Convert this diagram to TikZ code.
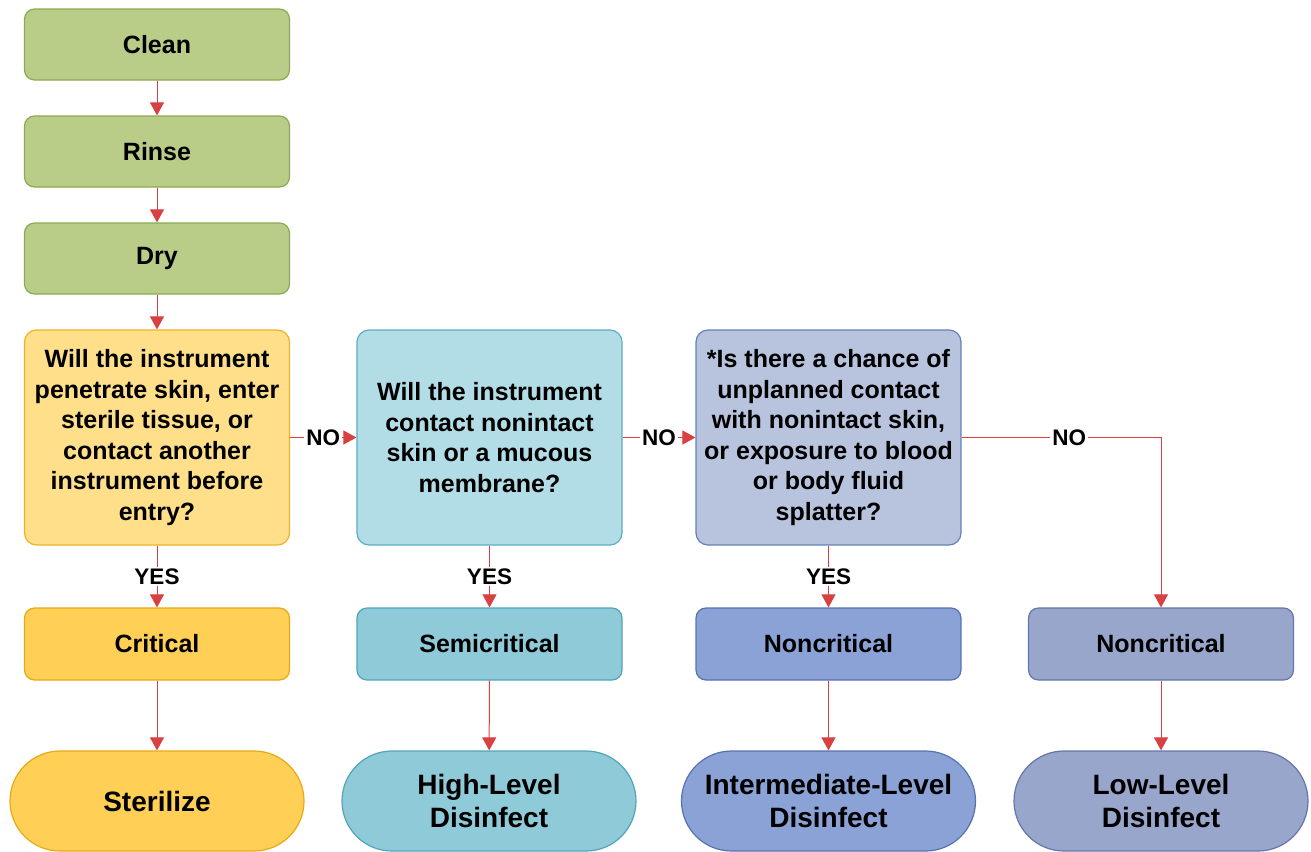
\documentclass[tikz,border=0pt]{standalone}
\usepackage{fontspec}
\setmainfont{Liberation Sans}
\usetikzlibrary{arrows.meta}
\definecolor{cleanfill}{RGB}{185,205,137}
\definecolor{cleanline}{RGB}{140,170,80}
\definecolor{askAfill}{RGB}{255,223,138}
\definecolor{askAline}{RGB}{240,178,36}
\definecolor{critfill}{RGB}{255,207,86}
\definecolor{critline}{RGB}{232,170,20}
\definecolor{askBfill}{RGB}{178,221,230}
\definecolor{askBline}{RGB}{92,174,196}
\definecolor{semifill}{RGB}{143,202,216}
\definecolor{semiline}{RGB}{82,164,186}
\definecolor{askCfill}{RGB}{184,195,221}
\definecolor{askCline}{RGB}{100,128,186}
\definecolor{nonAfill}{RGB}{138,162,213}
\definecolor{nonAline}{RGB}{88,114,176}
\definecolor{nonBfill}{RGB}{153,166,204}
\definecolor{nonBline}{RGB}{100,116,172}
\definecolor{flowred}{RGB}{217,64,64}
\tikzset{
  box/.style={draw, line width=0.6pt, rounded corners=5pt, align=center,
    minimum width=132.5pt, inner sep=0pt},
  stepbox/.style={box, fill=cleanfill, draw=cleanline, minimum height=35.5pt},
  askbox/.style={box, rounded corners=6pt, minimum height=107.5pt},
  classbox/.style={box, minimum height=36pt},
  endbox/.style={box, rounded corners=25pt, minimum width=147pt, minimum height=50pt,
    font=\bfseries\fontsize{14}{16.5}\selectfont},
  flow/.style={draw=flowred, line width=0.5pt, -{Triangle[width=7pt,length=6.5pt]}},
  tag/.style={fill=white, inner sep=1pt, font=\bfseries\fontsize{11.25}{13}\selectfont}
}
\begin{document}
\begin{tikzpicture}[x=0.5pt, y=-0.5pt, font=\bfseries\fontsize{12.5}{15.25}\selectfont]
	\useasboundingbox (0,0) rectangle (1311,851);
	% cleaning steps
	\node[stepbox] (clean) at (157,44.5) {Clean};
	\node[stepbox] (rinse) at (157,151.5) {Rinse};
	\node[stepbox] (dry) at (157,258.5) {Dry};
	% questions
	\node[askbox, fill=askAfill, draw=askAline] (askA) at (157,437.5)
		{Will the instrument\\penetrate skin, enter\\sterile tissue, or\\contact another\\instrument before\\entry?};
	\node[askbox, fill=askBfill, draw=askBline] (askB) at (489.5,437.5)
		{Will the instrument\\contact nonintact\\skin or a mucous\\membrane?};
	\node[askbox, fill=askCfill, draw=askCline] (askC) at (828.5,437.5)
		{*Is there a chance of\\unplanned contact\\with nonintact skin,\\or exposure to blood\\or body fluid\\splatter?};
	% categories
	\node[classbox, fill=critfill, draw=critline] (crit) at (157,644) {Critical};
	\node[classbox, fill=semifill, draw=semiline] (semi) at (489.5,644) {Semicritical};
	\node[classbox, fill=nonAfill, draw=nonAline] (nonA) at (828.5,644) {Noncritical};
	\node[classbox, fill=nonBfill, draw=nonBline] (nonB) at (1161,644) {Noncritical};
	% processing
	\node[endbox, fill=critfill, draw=critline] (steril) at (157,801) {Sterilize};
	\node[endbox, fill=semifill, draw=semiline] (high) at (489,801) {High-Level\\Disinfect};
	\node[endbox, fill=nonAfill, draw=nonAline] (inter) at (828.5,801) {Intermediate-Level\\Disinfect};
	\node[endbox, fill=nonBfill, draw=nonBline] (low) at (1161,801) {Low-Level\\Disinfect};
	% connectors
	\draw[flow] (clean) -- (rinse);
	\draw[flow] (rinse) -- (dry);
	\draw[flow] (dry) -- (askA);
	\draw[flow] (askA) -- node[tag] {YES} (crit);
	\draw[flow] (askB) -- node[tag] {YES} (semi);
	\draw[flow] (askC) -- node[tag] {YES} (nonA);
	\draw[flow] (askA) -- node[tag] {NO} (askB);
	\draw[flow] (askB) -- node[tag] {NO} (askC);
	\draw[flow] (askC) -| node[tag, pos=0.27] {NO} (nonB);
	\draw[flow] (crit) -- (steril);
	\draw[flow] (semi) -- (high);
	\draw[flow] (nonA) -- (inter);
	\draw[flow] (nonB) -- (low);
\end{tikzpicture}
\end{document}
